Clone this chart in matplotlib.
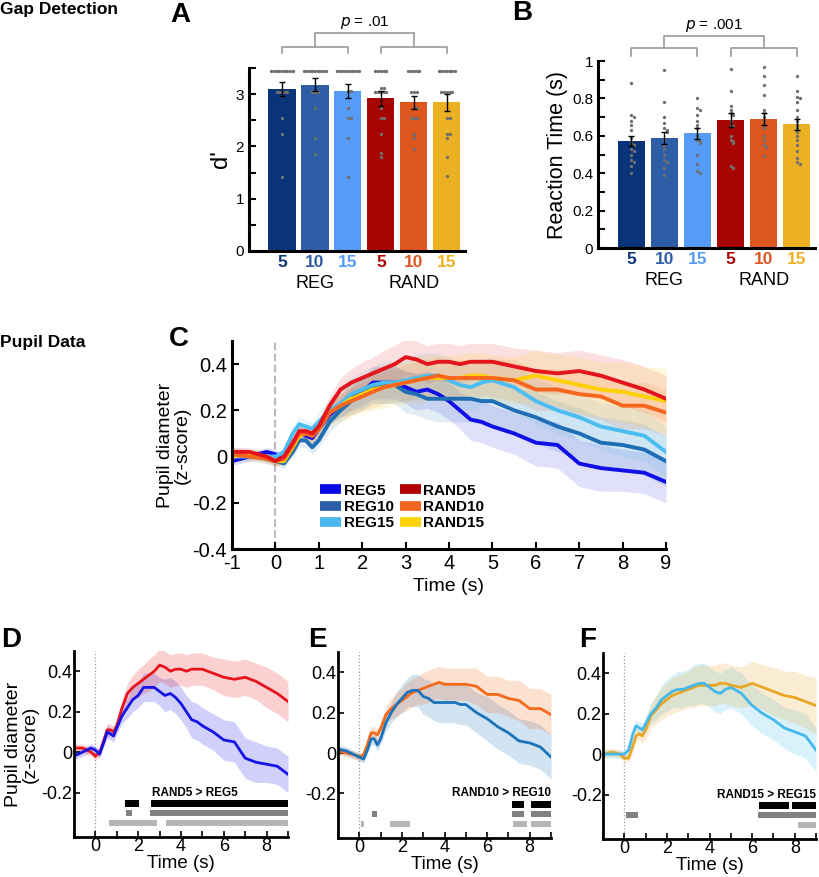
import matplotlib.pyplot as plt
from matplotlib.lines import Line2D

plt.rcParams['font.family'] = ['Liberation Sans', 'DejaVu Sans']
plt.rcParams['axes.unicode_minus'] = False

# ---------------- data ----------------
cond_labels = ['5', '10', '15', '5', '10', '15']
bar_colors = ['#0a3479', '#2e5ea6', '#559bf7', '#a80303', '#dc561e', '#ecb123']

dprime_mean = [3.10, 3.18, 3.06, 2.92, 2.84, 2.84]
dprime_sem = [0.13, 0.12, 0.14, 0.14, 0.12, 0.16]
dprime_subj = [
    [3.44] * 9 + [3.04] * 5 + [2.54, 2.24, 1.42],
    [3.44] * 9 + [3.04] * 3 + [2.74, 2.16, 1.86],
    [3.44] * 9 + [3.06] * 2 + [2.74, 2.54, 2.54, 2.16, 1.42],
    [3.44] * 5 + [3.12] * 2 + [3.04] * 5 + [2.74, 2.54, 2.54, 2.24, 1.88, 1.80],
    [3.44] * 5 + [3.04] * 3 + [2.74, 2.74, 2.54, 2.54, 2.54, 2.24, 2.16, 1.95],
    [3.44] * 7 + [3.04] * 5 + [2.54, 2.54, 2.24, 2.24, 2.16, 1.80, 1.44],
]

rt_mean = [0.573, 0.590, 0.613, 0.685, 0.690, 0.662]
rt_sem = [0.026, 0.032, 0.030, 0.036, 0.034, 0.030]
rt_subj = [
    [0.88, 0.71, 0.70, 0.68, 0.66, 0.63, 0.59, 0.56, 0.55, 0.53, 0.52, 0.50, 0.47, 0.46, 0.44, 0.40],
    [0.95, 0.78, 0.70, 0.67, 0.64, 0.63, 0.62, 0.58, 0.55, 0.53, 0.50, 0.47, 0.46, 0.43, 0.39],
    [0.80, 0.75, 0.74, 0.71, 0.68, 0.66, 0.64, 0.60, 0.58, 0.57, 0.56, 0.50, 0.45, 0.41, 0.40],
    [0.96, 0.84, 0.76, 0.74, 0.72, 0.71, 0.68, 0.66, 0.65, 0.60, 0.58, 0.57, 0.56, 0.44, 0.43],
    [0.97, 0.92, 0.87, 0.82, 0.74, 0.72, 0.70, 0.68, 0.66, 0.64, 0.60, 0.58, 0.55, 0.54, 0.49],
    [0.92, 0.84, 0.81, 0.80, 0.78, 0.74, 0.70, 0.68, 0.66, 0.64, 0.62, 0.60, 0.58, 0.55, 0.52, 0.48, 0.46, 0.45],
]

time = [-1, -0.6, -0.2, 0, 0.2, 0.4, 0.55, 0.7, 0.85, 1.0, 1.25, 1.5, 1.75, 2.0, 2.25, 2.5, 2.75,
        3.0, 3.25, 3.5, 3.75, 4.0, 4.25, 4.5, 4.75, 5.0, 5.5, 6.0, 6.5, 7.0, 7.5, 8.0, 8.5, 9.0]
reg5 = [-0.02, 0.00, 0.02, 0.01, -0.01, 0.05, 0.10, 0.09, 0.08, 0.12, 0.18, 0.22, 0.26, 0.28, 0.32, 0.32, 0.32,
        0.30, 0.28, 0.29, 0.27, 0.24, 0.20, 0.16, 0.15, 0.13, 0.10, 0.06, 0.05, -0.03, -0.05, -0.06, -0.07, -0.11]
reg10 = [0.02, 0.01, -0.01, -0.02, -0.03, 0.02, 0.07, 0.07, 0.04, 0.07, 0.15, 0.20, 0.24, 0.27, 0.30, 0.31, 0.31,
         0.28, 0.27, 0.25, 0.25, 0.25, 0.25, 0.25, 0.24, 0.24, 0.20, 0.17, 0.13, 0.10, 0.06, 0.05, 0.03, -0.02]
reg15 = [0.00, 0.00, 0.00, 0.00, 0.02, 0.10, 0.14, 0.13, 0.12, 0.15, 0.20, 0.23, 0.27, 0.29, 0.31, 0.32, 0.32,
         0.33, 0.34, 0.35, 0.35, 0.33, 0.31, 0.30, 0.32, 0.33, 0.30, 0.24, 0.20, 0.17, 0.13, 0.11, 0.09, 0.02]
rand5 = [0.02, 0.02, 0.00, -0.02, 0.00, 0.06, 0.11, 0.11, 0.10, 0.13, 0.22, 0.29, 0.32, 0.34, 0.36, 0.38, 0.40,
         0.43, 0.42, 0.40, 0.41, 0.41, 0.40, 0.41, 0.41, 0.41, 0.39, 0.37, 0.36, 0.37, 0.35, 0.32, 0.29, 0.25]
rand10 = [0.01, 0.00, -0.01, -0.02, -0.01, 0.05, 0.10, 0.10, 0.09, 0.12, 0.19, 0.22, 0.24, 0.26, 0.28, 0.30, 0.31,
          0.32, 0.33, 0.34, 0.35, 0.34, 0.34, 0.34, 0.34, 0.34, 0.33, 0.29, 0.29, 0.27, 0.26, 0.22, 0.22, 0.19]
rand15 = [0.00, 0.01, 0.00, -0.02, -0.02, 0.04, 0.09, 0.10, 0.09, 0.12, 0.19, 0.22, 0.25, 0.27, 0.29, 0.30, 0.31,
          0.32, 0.33, 0.34, 0.34, 0.34, 0.34, 0.35, 0.35, 0.34, 0.33, 0.35, 0.33, 0.31, 0.29, 0.28, 0.26, 0.24]

sem_reg5 = [0.02, 0.02, 0.02, 0.02, 0.02, 0.02, 0.03, 0.03, 0.03, 0.03, 0.04, 0.05, 0.06, 0.06, 0.07, 0.07, 0.07,
            0.07, 0.08, 0.08, 0.08, 0.08, 0.08, 0.09, 0.09, 0.09, 0.09, 0.10, 0.10, 0.10, 0.10, 0.09, 0.09, 0.09]
sem_reg10 = [0.02, 0.02, 0.02, 0.02, 0.02, 0.02, 0.03, 0.03, 0.03, 0.03, 0.04, 0.05, 0.06, 0.07, 0.07, 0.08, 0.08,
             0.09, 0.09, 0.09, 0.10, 0.10, 0.10, 0.10, 0.10, 0.10, 0.10, 0.11, 0.11, 0.11, 0.11, 0.11, 0.11, 0.11]
sem_reg15 = [0.02, 0.02, 0.02, 0.02, 0.02, 0.03, 0.03, 0.03, 0.03, 0.04, 0.05, 0.06, 0.07, 0.08, 0.08, 0.09, 0.09,
             0.09, 0.10, 0.10, 0.10, 0.10, 0.10, 0.10, 0.10, 0.10, 0.10, 0.10, 0.10, 0.10, 0.10, 0.11, 0.11, 0.11]
sem_rand5 = [0.02, 0.02, 0.02, 0.02, 0.02, 0.02, 0.03, 0.03, 0.03, 0.03, 0.04, 0.05, 0.06, 0.07, 0.07, 0.08, 0.08,
             0.08, 0.08, 0.08, 0.08, 0.08, 0.08, 0.08, 0.08, 0.08, 0.08, 0.09, 0.09, 0.09, 0.09, 0.10, 0.10, 0.10]
sem_rand10 = [0.02, 0.02, 0.02, 0.02, 0.02, 0.02, 0.03, 0.03, 0.03, 0.03, 0.04, 0.05, 0.06, 0.06, 0.07, 0.07, 0.07,
              0.08, 0.08, 0.08, 0.08, 0.08, 0.08, 0.08, 0.08, 0.08, 0.09, 0.09, 0.09, 0.09, 0.10, 0.10, 0.10, 0.10]
sem_rand15 = [0.02, 0.02, 0.02, 0.02, 0.02, 0.03, 0.03, 0.03, 0.04, 0.05, 0.06, 0.07, 0.08, 0.08, 0.09, 0.09, 0.09,
              0.09, 0.10, 0.10, 0.10, 0.10, 0.10, 0.10, 0.10, 0.10, 0.10, 0.11, 0.11, 0.12, 0.12, 0.13, 0.13, 0.14]

# significant clusters (start, end) in s: rows black / dark gray / light gray
sig_d = [[(1.37, 2.03), (2.58, 9.0)], [(1.42, 1.73), (2.53, 9.0)], [(0.66, 2.86), (3.29, 9.0)]]
sig_e = [[(7.17, 7.72), (8.08, 9.0)], [(0.61, 0.82), (7.17, 7.72), (8.05, 9.0)],
         [(0.08, 0.20), (1.43, 2.38), (7.23, 7.87), (8.05, 9.0)]]
sig_f = [[(6.32, 7.71), (7.89, 9.0)], [(0.08, 0.62), (6.27, 9.0)], [(8.17, 9.0)]]

# ---------------- helpers ----------------
def swarm(vals, center, dx, tol):
    xs, placed = [], []
    for v in vals:
        n = sum(1 for p in placed if abs(p - v) < tol)
        k = (n + 1) // 2 * (1 if n % 2 else -1)
        xs.append(center + k * dx)
        placed.append(v)
    return xs


def style_axes(ax, lw=2.0):
    for s in ['top', 'right']:
        ax.spines[s].set_visible(False)
    for s in ['left', 'bottom']:
        ax.spines[s].set_linewidth(lw)


def bar_panel(ax, means, sems, subj, ylim, dx, tol, ylabel, ylsize):
    pos = list(range(1, 7))
    ax.bar(pos, means, width=0.82, color=bar_colors, zorder=1)
    for i, vals in enumerate(subj):
        ax.plot(swarm(vals, pos[i], dx, tol), vals, 'o', ms=2.4, color='#707070', mew=0, zorder=2)
    ax.errorbar(pos, means, yerr=sems, fmt='none', ecolor='black', elinewidth=1, capsize=2, capthick=1, zorder=3)
    ax.set_xlim(0, 6.55)
    ax.set_ylim(*ylim)
    ax.set_xticks(pos, cond_labels)
    for lab, c in zip(ax.get_xticklabels(), bar_colors):
        lab.set_color(c)
        lab.set_fontweight('bold')
    ax.tick_params(axis='x', length=0, labelsize=12.5, pad=3)
    ax.tick_params(axis='y', which='both', direction='in', length=5, width=1.5, labelsize=11)
    ax.set_ylabel(ylabel, fontsize=ylsize, labelpad=3)
    style_axes(ax, 2.2)
    tr = ax.get_xaxis_transform()
    ax.text(2, -0.175, 'REG', transform=tr, ha='center', va='center', fontsize=13)
    ax.text(5, -0.175, 'RAND', transform=tr, ha='center', va='center', fontsize=13)


def bracket(ax, y_low, y_mid, y_top, y_txt, label):
    kw = dict(color='#999999', lw=1.2, clip_on=False)
    ax.plot([1, 1, 3, 3], [y_low, y_mid, y_mid, y_low], **kw)
    ax.plot([4, 4, 6, 6], [y_low, y_mid, y_mid, y_low], **kw)
    ax.plot([2, 2, 5, 5], [y_mid, y_top, y_top, y_mid], **kw)
    ax.text(3.5, y_txt, label, ha='center', va='center', fontsize=11)


fig = plt.figure(figsize=(8.2, 8.77), dpi=100)

# ---------------- A ----------------
axA = fig.add_axes([0.3037, 0.7138, 0.2634, 0.2087])
bar_panel(axA, dprime_mean, dprime_sem, dprime_subj, (0, 3.5), 0.083, 0.02, "d'", 17)
axA.set_yticks([0, 1, 2, 3])
axA.set_yticks([0.5, 1.5, 2.5, 3.5], minor=True)
bracket(axA, 3.79, 3.90, 4.17, 4.36, r'$p$ = .01')

# ---------------- B ----------------
axB = fig.add_axes([0.7293, 0.7172, 0.2646, 0.2132])
bar_panel(axB, rt_mean, rt_sem, rt_subj, (0, 1.0), 0.085, 0.012, 'Reaction Time (s)', 15.5)
axB.set_yticks([0, 0.2, 0.4, 0.6, 0.8, 1.0], ['0', '0.2', '0.4', '0.6', '0.8', '1'])
axB.set_yticks([0.1, 0.3, 0.5, 0.7, 0.9], minor=True)
bracket(axB, 1.027, 1.07, 1.134, 1.19, r'$p$ = .001')

# ---------------- C ----------------
series = [
    ('REG5', reg5, sem_reg5, '#1010e6', '#0a0ae6'),
    ('REG10', reg10, sem_reg10, '#1f6db4', '#2a5ea8'),
    ('REG15', reg15, sem_reg15, '#4cbdf0', '#4ab8ec'),
    ('RAND5', rand5, sem_rand5, '#e3141c', '#b00000'),
    ('RAND10', rand10, sem_rand10, '#f7661e', '#f26522'),
    ('RAND15', rand15, sem_rand15, '#ffd000', '#ffd400'),
]
axC = fig.add_axes([0.2829, 0.374, 0.5293, 0.2372])
for name, m, s, c, lc in series:
    lo = [a - b for a, b in zip(m, s)]
    hi = [a + b for a, b in zip(m, s)]
    axC.fill_between(time, lo, hi, color=c, alpha=0.13, lw=0)
for i in [0, 1, 2, 5, 4, 3]:
    name, m, s, c, lc = series[i]
    axC.plot(time, m, color=c, lw=2.8)
axC.axvline(0, color='#bbbbbb', ls='--', lw=1.5, zorder=0)
axC.set_xlim(-1, 9)
axC.set_ylim(-0.4, 0.5)
axC.set_xticks(range(-1, 10))
axC.set_yticks([-0.4, -0.2, 0, 0.2, 0.4], ['-0.4', '-0.2', '0', '0.2', '0.4'])
axC.tick_params(direction='in', length=5, width=1.5, labelsize=14.5)
axC.set_xlabel('Time (s)', fontsize=14)
axC.set_ylabel('Pupil diameter\n(z-score)', fontsize=14, linespacing=1.0, labelpad=1)
style_axes(axC, 2.2)
handles = [Line2D([], [], color=lc, lw=7, solid_capstyle='butt') for _, _, _, _, lc in series]
axC.legend(handles, [sr[0] for sr in series], ncol=2, loc='upper left', bbox_to_anchor=(0.185, 0.35),
           frameon=False, handlelength=1.4, handletextpad=0.15, columnspacing=0.4, labelspacing=0.15,
           borderpad=0, prop={'weight': 'bold', 'size': 11})

# ---------------- D / E / F ----------------
pairs = [
    (series[0], series[3], '#1414e6', '#e8141c', sig_d, 'RAND5 > REG5', [0.0902, 0.0456, 0.261, 0.2121]),
    (series[1], series[4], '#1a73ba', '#f46a1b', sig_e, 'RAND10 > REG10', [0.4122, 0.0445, 0.2598, 0.2121]),
    (series[2], series[5], '#45b9ec', '#e8a623', sig_f, 'RAND15 > REG15', [0.7354, 0.0433, 0.2598, 0.2121]),
]
sig_colors = ['#000000', '#828282', '#b6b6b6']
sig_y = [-0.253, -0.30, -0.349]
sig_h = [0.033, 0.03, 0.03]
for k, (sa, sb, ca, cb, sig, txt, rect) in enumerate(pairs):
    ax = fig.add_axes(rect)
    for sr, c in [(sa, ca), (sb, cb)]:
        lo = [a - b for a, b in zip(sr[1], sr[2])]
        hi = [a + b for a, b in zip(sr[1], sr[2])]
        ax.fill_between(time, lo, hi, color=c, alpha=0.2, lw=0)
    ax.plot(time, sb[1], color=cb, lw=2.0)
    ax.plot(time, sa[1], color=ca, lw=2.0)
    ax.axvline(0, color='#999999', ls=':', lw=0.9, zorder=0)
    for row, col, y, h in zip(sig, sig_colors, sig_y, sig_h):
        ax.broken_barh([(s, e - s) for s, e in row], (y - h / 2, h), facecolors=col)
    if k == 0:
        ax.text(2.65, -0.2, txt, ha='left', va='center', fontsize=8.5, fontweight='bold')
        ax.set_ylabel('Pupil diameter\n(z-score)', fontsize=14, linespacing=1.0, labelpad=2)
    else:
        ax.text(9.0, -0.2, txt, ha='right', va='center', fontsize=8.5, fontweight='bold')
    ax.set_xlim(-1, 9)
    ax.set_ylim(-0.42, 0.5)
    ax.set_xticks([0, 2, 4, 6, 8])
    ax.set_xticks(range(-1, 10), minor=True)
    ax.set_yticks([-0.2, 0, 0.2, 0.4], ['-0.2', '0', '0.2', '0.4'])
    ax.tick_params(which='both', direction='in', length=4, width=1.2, labelsize=13, pad=1)
    ax.set_xlabel('Time (s)', fontsize=13.5, labelpad=0)
    style_axes(ax, 2.0)

# ---------------- labels ----------------
fig.text(0.0, 0.9886, 'Gap Detection', fontsize=12.5, fontweight='bold', va='center')
fig.text(0.0, 0.61, 'Pupil Data', fontsize=12.5, fontweight='bold', va='center')
for letter, x, y in [('A', 0.2195, 0.983), ('B', 0.6366, 0.985), ('C', 0.218, 0.6135),
                     ('D', 0.0134, 0.27), ('E', 0.3866, 0.27), ('F', 0.717, 0.27)]:
    fig.text(x, y, letter, fontsize=20, fontweight='bold', ha='center', va='center')

fig.savefig('out.png', dpi=100)
